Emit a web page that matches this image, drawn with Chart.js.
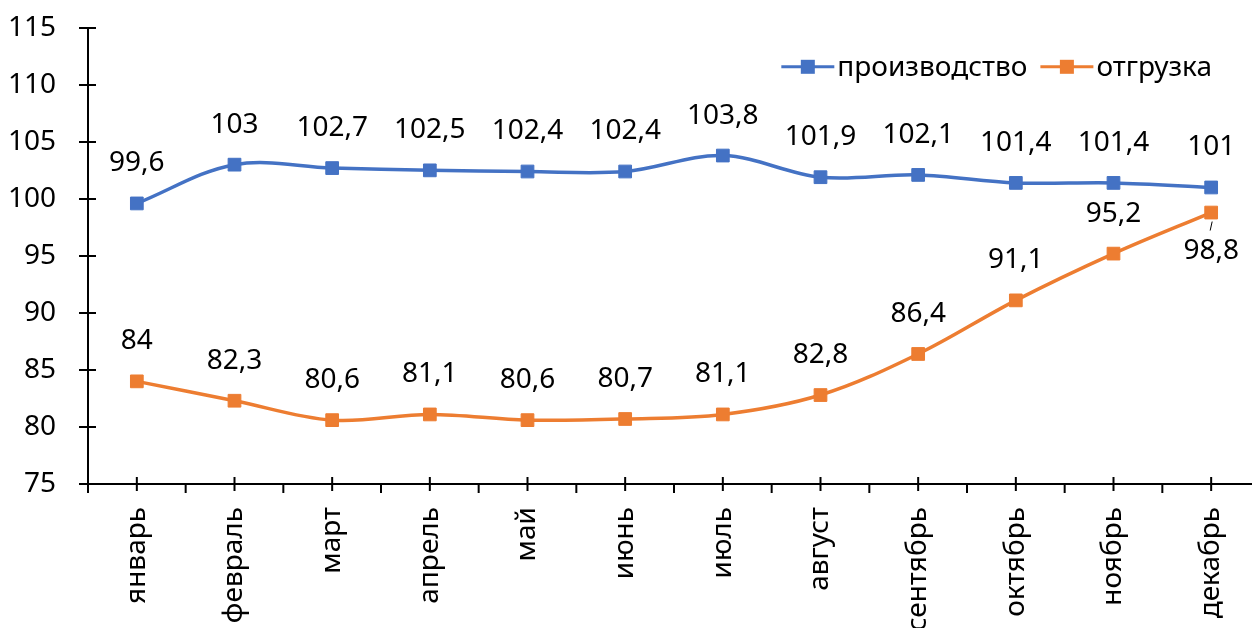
<!DOCTYPE html>
<html>
<head>
<meta charset="utf-8">
<script src="https://cdn.jsdelivr.net/npm/chart.js@4"></script>
<style>
  html, body { margin:0; padding:0; background:#fff; overflow:hidden; }
  #wrap { width:1270px; height:641px; margin-top:-13px; }
</style>
</head>
<body>
<div id="wrap"><canvas id="c" width="1270" height="641"></canvas></div>
<script>
// data
const months = ['январь','февраль','март','апрель','май','июнь','июль','август','сентябрь','октябрь','ноябрь','декабрь'];
const production = [99.6, 103, 102.7, 102.5, 102.4, 102.4, 103.8, 101.9, 102.1, 101.4, 101.4, 101];
const shipment = [84, 82.3, 80.6, 81.1, 80.6, 80.7, 81.1, 82.8, 86.4, 91.1, 95.2, 98.8];
const seriesNames = ['производство', 'отгрузка'];
const yMin = 75, yMax = 115, yStep = 5;

const BLUE = '#4472C4', ORANGE = '#ED7D31';
const FONT = '"Segoe UI", "Noto Sans", sans-serif';
const FS = 28;
const fmt = v => String(v).replace('.', ',');

// tick marks like excel: y ticks crossing the axis, x ticks at boundaries + crossing at centres
const axisTicks = {
  id: 'axisTicks',
  afterDraw(chart){
    const {ctx, chartArea:a, scales:{x, y}} = chart;
    ctx.save();
    ctx.strokeStyle = '#000';
    ctx.lineWidth = 2;
    ctx.beginPath();
    y.ticks.forEach(t => {
      const py = Math.round(y.getPixelForValue(t.value));
      ctx.moveTo(a.left - 9, py);
      ctx.lineTo(t.value === yMin ? a.left : a.left + 8, py);
    });
    for(let i = 0; i <= months.length; i++){
      const px = a.left + (a.right - a.left) * i / months.length;
      ctx.moveTo(px, a.bottom);
      ctx.lineTo(px, a.bottom + 9);
    }
    months.forEach((m, i) => {
      const px = x.getPixelForValue(i);
      ctx.moveTo(px, a.bottom - 7);
      ctx.lineTo(px, a.bottom + 7);
    });
    ctx.stroke();
    ctx.restore();
  }
};

// value labels above the markers (last shipment value goes below with a leader)
const valueLabels = {
  id: 'valueLabels',
  afterDatasetsDraw(chart){
    const ctx = chart.ctx;
    ctx.save();
    ctx.font = FS + 'px ' + FONT;
    ctx.fillStyle = '#000';
    ctx.textAlign = 'center';
    ctx.textBaseline = 'middle';
    chart.data.datasets.forEach((ds, di) => {
      chart.getDatasetMeta(di).data.forEach((pt, i) => {
        const below = di === 1 && i === ds.data.length - 1;
        const ly = below ? pt.y + 38 : pt.y - 40;
        ctx.fillText(fmt(ds.data[i]), pt.x, ly);
        if(below){
          ctx.strokeStyle = '#000';
          ctx.lineWidth = 1;
          ctx.beginPath();
          ctx.moveTo(pt.x + 1, pt.y + 9);
          ctx.lineTo(pt.x - 1, pt.y + 18);
          ctx.stroke();
        }
      });
    });
    ctx.restore();
  }
};

// legend: line + square marker, top right inside the plot
const lineLegend = {
  id: 'lineLegend',
  afterDraw(chart){
    const ctx = chart.ctx;
    ctx.save();
    ctx.font = FS + 'px ' + FONT;
    ctx.textBaseline = 'middle';
    const cy = chart.chartArea.top + 39, lineW = 53, gap = 3, itemGap = 13;
    let x = 1212;
    const items = chart.data.datasets.map(ds => ({label: ds.label, color: ds.borderColor}));
    const widths = items.map(it => lineW + gap + ctx.measureText(it.label).width);
    x -= widths.reduce((s, w) => s + w, 0) + itemGap * (items.length - 1);
    items.forEach((it, i) => {
      ctx.strokeStyle = it.color;
      ctx.lineWidth = 3;
      ctx.beginPath();
      ctx.moveTo(x, cy);
      ctx.lineTo(x + lineW, cy);
      ctx.stroke();
      ctx.fillStyle = it.color;
      ctx.fillRect(x + lineW / 2 - 7, cy - 7, 14, 14);
      ctx.fillStyle = '#000';
      ctx.fillText(it.label, x + lineW + gap, cy + 1);
      x += widths[i] + itemGap;
    });
    ctx.restore();
  }
};

function series(label, data, color){
  return {
    label, data,
    borderColor: color, backgroundColor: color,
    borderWidth: 3.5,
    tension: 0.35,
    pointStyle: 'rect',
    pointRadius: 9,
    pointHoverRadius: 9,
    pointBorderWidth: 1,
    pointBorderColor: color,
    pointBackgroundColor: color
  };
}

new Chart(document.getElementById('c'), {
  type: 'line',
  data: {
    labels: months,
    datasets: [series(seriesNames[0], production, BLUE), series(seriesNames[1], shipment, ORANGE)]
  },
  options: {
    responsive: false,
    animation: false,
    layout: { padding: { top: 9, right: 0, left: 0, bottom: 0 } },
    plugins: { legend: { display: false }, tooltip: { enabled: false } },
    scales: {
      x: {
        offset: true,
        grid: { display: false },
        border: { display: true, color: '#000', width: 2 },
        ticks: { color: '#000', font: { size: FS, family: FONT }, minRotation: 90, maxRotation: 90, padding: 15, autoSkip: false },
        afterFit: s => { s.height = 144; }
      },
      y: {
        min: yMin, max: yMax,
        grid: { display: false },
        border: { display: true, color: '#000', width: 2 },
        ticks: { stepSize: yStep, color: '#000', font: { size: FS, family: FONT }, padding: 24 },
        afterFit: s => { s.width = 88; }
      }
    }
  },
  plugins: [axisTicks, valueLabels, lineLegend]
});
</script>
</body>
</html>
